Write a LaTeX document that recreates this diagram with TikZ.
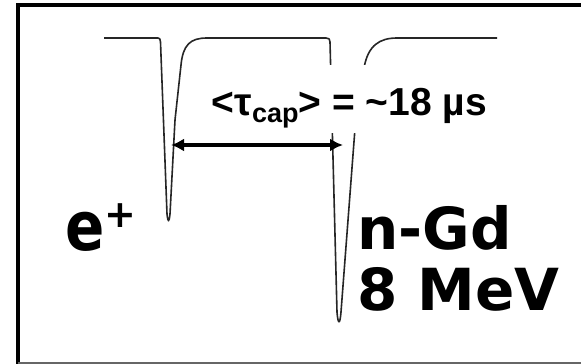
\documentclass[tikz,border=0pt]{standalone}
\usepackage{fontspec}
\usetikzlibrary{arrows.meta}
\newfontfamily\dejab{DejaVu Sans}
\newfontfamily\arib{Liberation Sans}
\begin{document}
\begin{tikzpicture}[x=1pt,y=-1pt,
  pulse/.style={draw=black!85,line width=1.6pt,line join=round},
  biglabel/.style={inner sep=0pt,anchor=base west,font=\dejab\bfseries\fontsize{58}{61}\selectfont},
  dtarrow/.style={line width=4pt,{Latex[length=13pt,width=13pt]}-{Latex[length=13pt,width=13pt]}}]
\useasboundingbox (0,0) rectangle (581,364);
\fill[white] (0,0) rectangle (581,364);
% frame
\draw[line width=4pt] (17.5,364) -- (17.5,4.5) -- (581,4.5);
\draw[line width=2pt,black!60] (17.5,363) -- (581,363);
% pulses
\draw[pulse] (104,38) -- (158,38) .. controls (160,38) and (160,39) .. (160.5,42)
  -- (167,214) .. controls (168,223) and (169,223) .. (170,214)
  -- (175,120) -- (181,65) .. controls (183,45) and (190,38) .. (207,38)
  -- (326,38) .. controls (329,38) and (330,39) .. (330,42)
  -- (337,312) .. controls (338,325) and (340,325) .. (341,312)
  -- (355.5,122) -- (364,68) .. controls (368,45) and (380,38) .. (397,38)
  -- (497,38);
% label with white background
\node[fill=white,inner sep=0pt,anchor=base,minimum width=290pt,text height=50pt,text depth=18pt,
  font=\arib\bfseries\fontsize{39}{40}\selectfont] (tau) at (349.5,115)
  {<τ\raisebox{-7pt}{\fontsize{27}{28}\selectfont cap}> = {\char"7E}18 µs};
% arrow
\coordinate (a1) at (171,145);
\coordinate (a2) at (343,145);
\draw[dtarrow] (a1) -- (a2);
% labels
\node[biglabel] (ep) at (65,250) {\scalebox{1}[1.18]{e}\raisebox{23pt}{\fontsize{38}{38}\selectfont +}};
\node[biglabel] (ngd) at (357,249) {n-Gd};
\node[biglabel] (mev) at (357,310) {8 MeV};
\end{tikzpicture}
\end{document}
